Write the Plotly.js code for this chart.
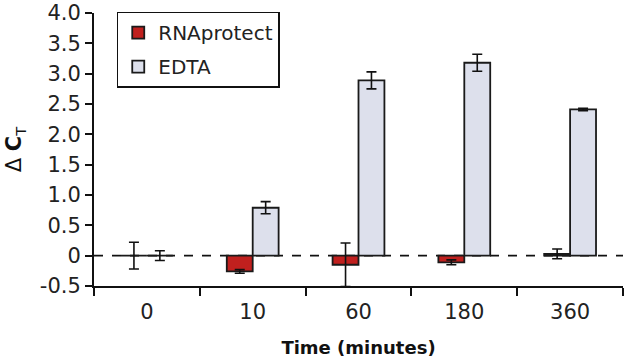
<!DOCTYPE html>
<html>
<head>
<meta charset="utf-8">
<script src="https://cdn.plot.ly/plotly-3.0.1.min.js"></script>
<style>html,body{margin:0;padding:0;background:#fff;}#chart{width:624px;height:362px;}</style>
</head>
<body>
<div id="chart"></div>
<script>
const categories = ["0", "10", "60", "180", "360"];
const rnaprotectValues = [0, -0.26, -0.15, -0.11, 0.03];
const rnaprotectErrors = [0.22, 0.03, 0.36, 0.04, 0.08];
const edtaValues = [0, 0.79, 2.89, 3.18, 2.41];
const edtaErrors = [0.08, 0.1, 0.14, 0.14, 0.02];
const yTickVals = [-0.5, 0, 0.5, 1.0, 1.5, 2.0, 2.5, 3.0, 3.5, 4.0];
const yTickText = ["-0.5", "0", "0.5", "1.0", "1.5", "2.0", "2.5", "3.0", "3.5", "4.0"];

const fontFam = "'DejaVu Sans', sans-serif";
const errStyle = {type: "data", visible: true, color: "#111", thickness: 1.6, width: 5};

const traces = [
  {
    type: "bar", name: "RNAprotect", x: categories, y: rnaprotectValues, legendgroup: "a",
    error_y: Object.assign({array: rnaprotectErrors}, errStyle),
    marker: {color: "#c0201e", line: {color: "#1a1a1a", width: 1.8}}
  },
  {
    type: "bar", name: "EDTA", x: categories, y: edtaValues, legendgroup: "b",
    error_y: Object.assign({array: edtaErrors}, errStyle),
    marker: {color: "#dde0ec", line: {color: "#1a1a1a", width: 1.8}}
  }
];

const layout = {
  width: 624, height: 362,
  margin: {l: 94, r: 1, t: 13, b: 76},
  paper_bgcolor: "#fff", plot_bgcolor: "#fff",
  barmode: "group", bargap: 0.51, bargroupgap: 0,
  font: {family: fontFam, color: "#222", size: 19},
  showlegend: true,
  legend: {
    x: 0.043, y: 1.005, xanchor: "left", yanchor: "top",
    bordercolor: "#111", borderwidth: 1.5, bgcolor: "#fff",
    font: {family: fontFam, size: 20, color: "#222"},
    traceorder: "grouped", tracegroupgap: 5
  },
  xaxis: {
    type: "category", tickson: "boundaries",
    ticks: "outside", ticklen: 8, tickwidth: 2, tickcolor: "#111",
    ticklabelstandoff: 6,
    showline: true, linecolor: "#111", linewidth: 2,
    showgrid: false, zeroline: false,
    tickfont: {family: fontFam, size: 21, color: "#222"},
    title: {text: "<b>Time (minutes)</b>", font: {family: fontFam, size: 18, color: "#111"}, standoff: 18},
    fixedrange: true
  },
  yaxis: {
    range: [-0.5, 4.0], tickvals: yTickVals, ticktext: yTickText,
    ticks: "outside", ticklen: 7, tickwidth: 2, tickcolor: "#111",
    showline: true, linecolor: "#111", linewidth: 2,
    showgrid: false, zeroline: false,
    tickfont: {family: fontFam, size: 21, color: "#222"},
    title: {text: "Δ <b>C</b><sub>T</sub>", font: {family: fontFam, size: 21, color: "#111"}, standoff: 12},
    fixedrange: true
  },
  shapes: [
    {type: "line", xref: "paper", yref: "y", x0: 0, x1: 1, y0: 0, y1: 0,
     line: {color: "#111", width: 1.6, dash: "dash"}, layer: "below"}
  ]
};

Plotly.newPlot("chart", traces, layout, {displayModeBar: false, staticPlot: true});
</script>
</body>
</html>
